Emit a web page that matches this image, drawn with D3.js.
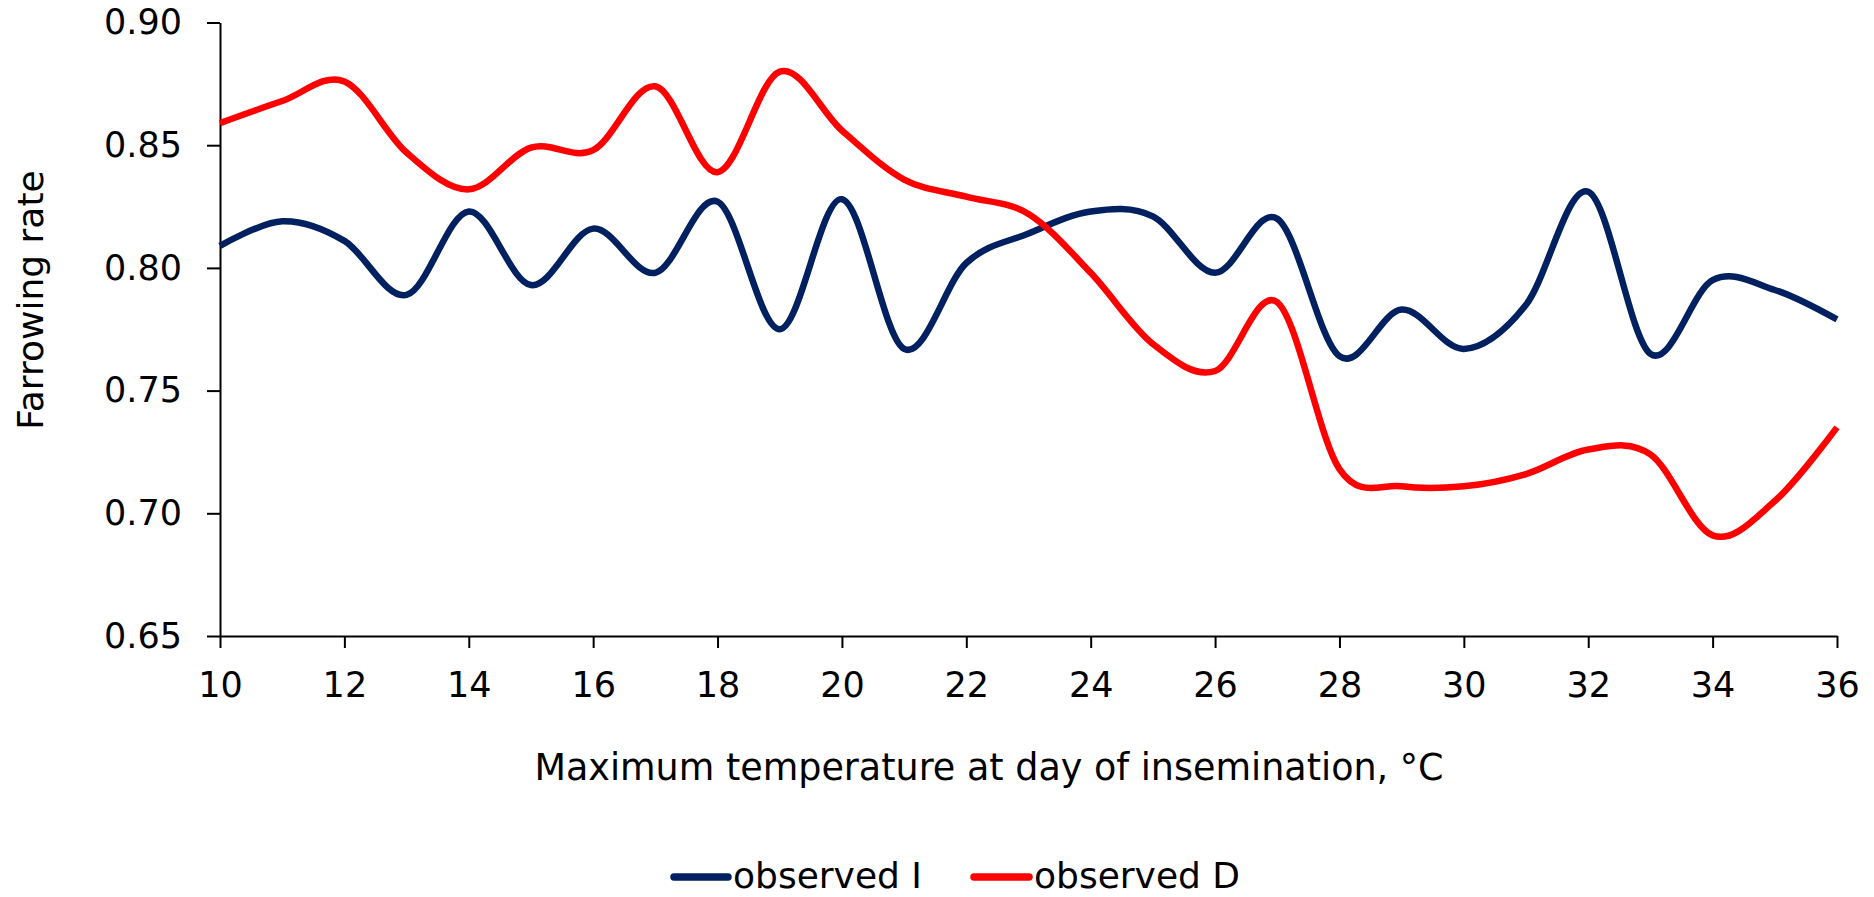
<!DOCTYPE html>
<html>
<head>
<meta charset="utf-8">
<script src="https://cdn.jsdelivr.net/npm/d3@7"></script>
<style>
  html, body { margin: 0; padding: 0; background: #ffffff; }
  svg { display: block; font-family: "DejaVu Sans", Verdana, sans-serif; }
</style>
</head>
<body>
<svg id="chart" width="1874" height="897"></svg>
<script>
// Maximum temperature at day of insemination (°C)
const temperatures = [10, 11, 12, 13, 14, 15, 16, 17, 18, 19, 20, 21, 22, 23, 24, 25, 26, 27, 28, 29, 30, 31, 32, 33, 34, 35, 36];

// Farrowing rate, observed I
const observedI = [0.809, 0.819, 0.811, 0.789, 0.823, 0.793, 0.816, 0.798, 0.827, 0.775, 0.828, 0.767, 0.802, 0.814, 0.823, 0.821, 0.798, 0.820, 0.764, 0.783, 0.767, 0.785, 0.831, 0.765, 0.795, 0.791, 0.779];

// Farrowing rate, observed D
const observedD = [0.859, 0.868, 0.876, 0.847, 0.832, 0.849, 0.848, 0.874, 0.839, 0.880, 0.856, 0.836, 0.829, 0.822, 0.798, 0.769, 0.758, 0.786, 0.718, 0.711, 0.711, 0.716, 0.726, 0.724, 0.691, 0.705, 0.735];

const xTicks = [10, 12, 14, 16, 18, 20, 22, 24, 26, 28, 30, 32, 34, 36];
const yTicks = [0.65, 0.70, 0.75, 0.80, 0.85, 0.90];

const seriesNames = ["observed I", "observed D"];
const seriesColors = ["#002060", "#ff0000"];

const svg = d3.select("#chart");
const plot = { left: 220, right: 1837, top: 22.5, bottom: 636 };

const x = d3.scaleLinear().domain([10, 36]).range([plot.left, plot.right]);
const y = d3.scaleLinear().domain([0.65, 0.90]).range([plot.bottom, plot.top]);

// Axes
const xAxis = svg.append("g")
  .attr("transform", `translate(0,${plot.bottom})`)
  .call(d3.axisBottom(x).tickValues(xTicks).tickFormat(d3.format("d")).tickSizeInner(12).tickSizeOuter(0).tickPadding(24));

const yAxis = svg.append("g")
  .attr("transform", `translate(${plot.left},0)`)
  .call(d3.axisLeft(y).tickValues(yTicks).tickFormat(d3.format(".2f")).tickSizeInner(13).tickSizeOuter(0).tickPadding(25));

[xAxis, yAxis].forEach(g => {
  g.select(".domain").attr("stroke", "#000").attr("stroke-width", 2);
  g.selectAll(".tick line").attr("stroke", "#000").attr("stroke-width", 2);
  g.selectAll(".tick text")
    .attr("fill", "#000")
    .style("font-family", "'DejaVu Sans', Verdana, sans-serif")
    .style("font-size", "35px");
});

// Data lines, smoothed
const line = d3.line()
  .x((d, i) => x(temperatures[i]))
  .y(d => y(d))
  .curve(d3.curveCardinal.tension(0));

const series = [observedI, observedD];
series.forEach((values, k) => {
  svg.append("path")
    .datum(values)
    .attr("fill", "none")
    .attr("stroke", seriesColors[k])
    .attr("stroke-width", 6.5)
    .attr("stroke-linejoin", "round")
    .attr("d", line);
});

// Axis titles
svg.append("text")
  .attr("x", 989)
  .attr("y", 780)
  .attr("text-anchor", "middle")
  .style("font-size", "36.5px")
  .attr("fill", "#000")
  .text("Maximum temperature at day of insemination, \u00B0C");

svg.append("text")
  .attr("transform", "translate(43,300) rotate(-90)")
  .attr("text-anchor", "middle")
  .style("font-size", "36px")
  .attr("fill", "#000")
  .text("Farrowing rate");

// Legend
const legendItems = [
  { x0: 674, x1: 728, tx: 733 },
  { x0: 974, x1: 1029, tx: 1034 }
];
legendItems.forEach((it, k) => {
  svg.append("line")
    .attr("x1", it.x0).attr("x2", it.x1)
    .attr("y1", 877).attr("y2", 877)
    .attr("stroke", seriesColors[k])
    .attr("stroke-width", 7.5)
    .attr("stroke-linecap", "round");
  svg.append("text")
    .attr("x", it.tx)
    .attr("y", 888)
    .style("font-size", "36px")
    .attr("fill", "#000")
    .text(seriesNames[k]);
});
</script>
</body>
</html>
